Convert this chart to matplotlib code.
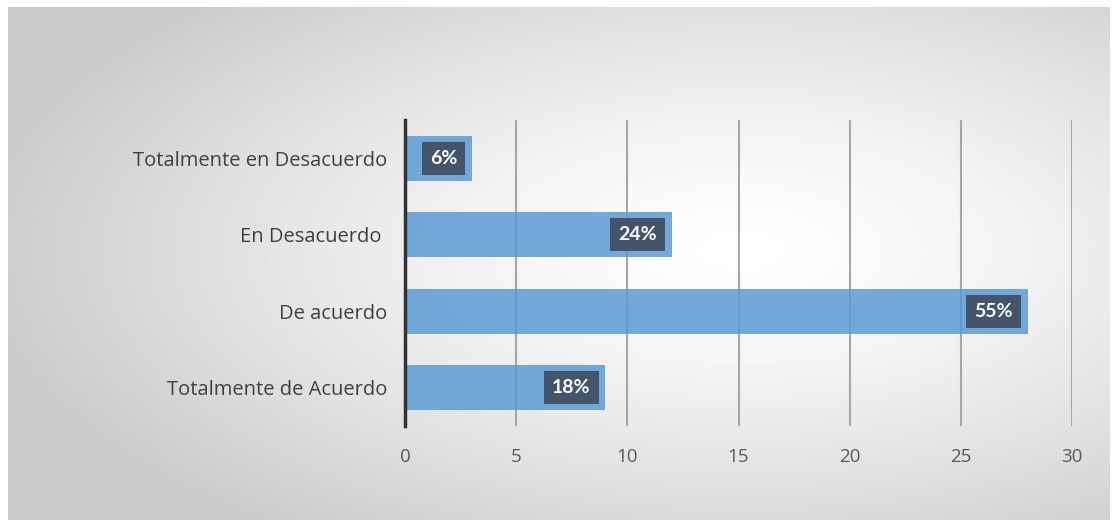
import numpy as np
import matplotlib
matplotlib.use("Agg")
import matplotlib.pyplot as plt

categories = ["Totalmente de Acuerdo", "De acuerdo", "En Desacuerdo ", "Totalmente en Desacuerdo"]
values = [9, 28, 12, 3]
labels = ["18%", "55%", "24%", "6%"]
xticks = [0, 5, 10, 15, 20, 25, 30]

W, H = 1118, 520
fig = plt.figure(figsize=(W / 100, H / 100), dpi=100)
fig.patch.set_facecolor("white")

# radial gradient background
bgw, bgh = W - 16, H - 7
bg = fig.add_axes([8 / W, 0, bgw / W, bgh / H])
bg.set_axis_off()
yy, xx = np.mgrid[0:bgh:2, 0:bgw:2]
cx, cy = 740 - 8, 250 - 7
d = np.sqrt(((xx - cx) / 720.0) ** 2 + ((yy - cy) / 330.0) ** 2)
g = np.clip(1.0 - 0.19 * d ** 1.4, 0.79, 1.0)
bg.imshow(g, cmap="gray", vmin=0, vmax=1, aspect="auto", extent=[0, 1, 0, 1],
          origin="upper", interpolation="bilinear")
bg.set_xlim(0, 1)
bg.set_ylim(0, 1)

ax = fig.add_axes([405 / W, (H - 426) / H, (1072 - 405) / W, (426 - 120) / H])
ax.patch.set_alpha(0)
ypos = np.arange(len(categories))
ax.barh(ypos, values, height=0.59, color="#5B9BD5", alpha=0.85, zorder=2)
for y, v, lab in zip(ypos, values, labels):
    ax.annotate(lab, xy=(v, y), xytext=(-10.5, 0), textcoords="offset points",
                ha="right", va="center", color="white", fontsize=14,
                fontweight="bold", family="Lato", zorder=4,
                bbox=dict(boxstyle="square,pad=0.42", fc="#44546A", ec="none"))

ax.set_xlim(0, 30)
ax.set_ylim(-0.5, 3.5)
ax.set_xticks(xticks)
ax.set_xticklabels([str(t) for t in xticks], fontsize=13.5, color="#595959", family="Open Sans")
ax.set_yticks(ypos)
ax.set_yticklabels(categories, fontsize=14.5, color="#404040", family="Open Sans")
ax.tick_params(axis="y", length=0, pad=13)
ax.tick_params(axis="x", length=0, pad=16)
for x in xticks[1:]:
    ax.axvline(x, color="#a6a6a6", lw=1.5, zorder=1)
for s in ["top", "right", "bottom"]:
    ax.spines[s].set_visible(False)
ax.spines["left"].set_color("#333333")
ax.spines["left"].set_linewidth(2.5)
ax.spines["left"].set_zorder(5)

fig.savefig("out.png", dpi=100)
